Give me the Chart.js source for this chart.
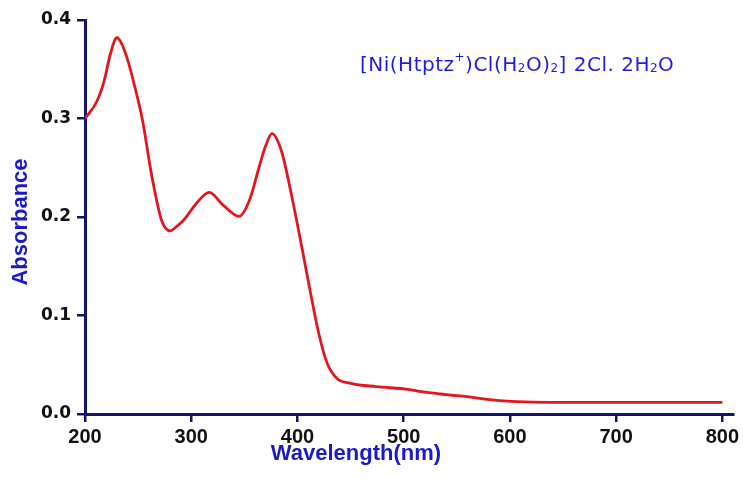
<!DOCTYPE html>
<html>
<head>
<meta charset="utf-8">
<script src="https://cdn.jsdelivr.net/npm/chart.js@4"></script>
<style>
  html, body { margin: 0; padding: 0; background: #ffffff; }
  #wrap { width: 743px; height: 491px; }
</style>
</head>
<body>
<div id="wrap"><canvas id="spectrum" width="743" height="491"></canvas></div>
<script>
// UV-Vis absorption spectrum of the Ni(II) complex
const wavelength = [200, 211, 218, 224, 230, 234, 240, 246, 254, 263, 272, 280, 287, 293, 305, 317, 330, 345, 355, 364, 370, 376, 385, 394, 404, 413, 420, 428, 437, 450, 474, 504, 517, 535, 553, 590, 606, 639, 700, 800];
const absorbance = [0.300, 0.317, 0.338, 0.366, 0.382, 0.377, 0.360, 0.336, 0.299, 0.241, 0.197, 0.186, 0.191, 0.197, 0.214, 0.225, 0.212, 0.2006, 0.2175, 0.251, 0.272, 0.2846, 0.2667, 0.2243, 0.170, 0.119, 0.082, 0.0515, 0.0363, 0.0312, 0.0278, 0.0251, 0.0227, 0.0203, 0.0183, 0.0135, 0.0125, 0.0119, 0.0119, 0.0119];
const xTicks = [200, 300, 400, 500, 600, 700, 800];
const yTicks = [0.0, 0.1, 0.2, 0.3, 0.4];

const xTitle = 'Wavelength(nm)';
const yTitle = 'Absorbance';
// compound label: [text, style] where style is 'n' normal, 'sub' subscript, 'sup' superscript
const compoundLabel = [
  ['[Ni(Htptz', 'n'], ['+', 'sup'], [')Cl(H', 'n'], ['2', 'sub'], ['O)', 'n'], ['2', 'sub'],
  ['] 2Cl. 2H', 'n'], ['2', 'sub'], ['O', 'n']
];

const AXIS = '#14146e';
const TITLE_BLUE = '#1a1ac8';
const LABEL_BLUE = '#1e1ee0';

const points = wavelength.map((w, i) => ({ x: w, y: absorbance[i] }));

const textPlugin = {
  id: 'spectrumText',
  afterDraw(chart) {
    const ctx = chart.ctx;
    ctx.save();
    // axis titles
    ctx.fillStyle = TITLE_BLUE;
    ctx.font = 'bold 22px "Liberation Sans", Arial, sans-serif';
    ctx.textAlign = 'center';
    ctx.textBaseline = 'middle';
    ctx.fillText(xTitle, 356, 454);
    ctx.save();
    ctx.translate(21, 222);
    ctx.rotate(-Math.PI / 2);
    ctx.fillText(yTitle, 0, 0);
    ctx.restore();

    // compound formula annotation
    ctx.fillStyle = LABEL_BLUE;
    ctx.textAlign = 'left';
    ctx.textBaseline = 'alphabetic';
    ctx.letterSpacing = '0.5px';
    const mainFont = '20px "DejaVu Sans", sans-serif';
    const smallFont = '12px "DejaVu Sans", sans-serif';
    let x = 360;
    const base = 71;
    compoundLabel.forEach(([txt, style]) => {
      if (style === 'n') {
        ctx.font = mainFont;
        ctx.fillText(txt, x, base);
      } else if (style === 'sub') {
        ctx.font = smallFont;
        ctx.fillText(txt, x, base + 1);
      } else {
        ctx.font = smallFont;
        ctx.fillText(txt, x, base - 10);
      }
      x += ctx.measureText(txt).width;
    });
    ctx.restore();
  }
};

new Chart(document.getElementById('spectrum'), {
  type: 'line',
  data: {
    datasets: [{
      data: points,
      borderColor: '#e3161c',
      borderWidth: 2.8,
      pointRadius: 0,
      fill: false,
      cubicInterpolationMode: 'monotone'
    }]
  },
  options: {
    responsive: false,
    animation: false,
    devicePixelRatio: 1,
    layout: { padding: { top: 20, right: 10, left: 0, bottom: 0 } },
    plugins: { legend: { display: false }, tooltip: { enabled: false } },
    scales: {
      x: {
        type: 'linear',
        min: 200,
        max: 810,
        afterBuildTicks(scale) {
          scale.ticks = xTicks.map(v => ({ value: v }));
        },
        afterFit(scale) { scale.height = 77; },
        border: { display: true, color: AXIS, width: 3 },
        grid: { drawOnChartArea: false, drawTicks: true, tickLength: 8, color: AXIS, lineWidth: 2.5 },
        ticks: {
          padding: 3,
          color: '#111111',
          font: { family: '"Liberation Sans", Arial, sans-serif', size: 20, weight: 'bold' },
          maxRotation: 0,
          callback: v => String(v)
        }
      },
      y: {
        type: 'linear',
        min: 0,
        max: 0.4,
        afterBuildTicks(scale) {
          scale.ticks = yTicks.map(v => ({ value: v }));
        },
        afterFit(scale) { scale.width = 85; },
        border: { display: true, color: AXIS, width: 3 },
        grid: { drawOnChartArea: false, drawTicks: true, tickLength: 8, color: AXIS, lineWidth: 2.5 },
        ticks: {
          padding: 6,
          color: '#111111',
          font: { family: '"DejaVu Sans", Verdana, sans-serif', size: 17, weight: 'bold' },
          callback: v => Number(v).toFixed(1)
        }
      }
    }
  },
  plugins: [textPlugin]
});
</script>
</body>
</html>
